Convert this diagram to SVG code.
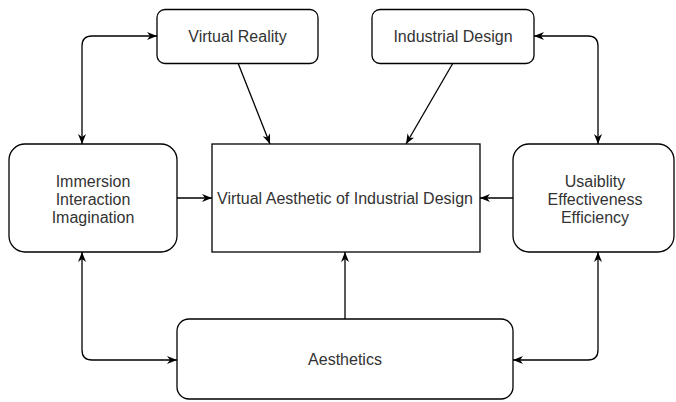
<svg xmlns="http://www.w3.org/2000/svg" width="676" height="402" viewBox="0 0 676 402">
<style>
.box{fill:#fff;stroke:#000;stroke-width:1.3}
.t{font-family:"Liberation Sans",Arial,sans-serif;font-size:16px;fill:#333;text-anchor:middle}
.c{fill:none;stroke:#000;stroke-width:1.3}
</style>
<defs>
<marker id="ah" viewBox="0 0 10 8" refX="10" refY="4" markerWidth="10" markerHeight="8" markerUnits="userSpaceOnUse" orient="auto-start-reverse">
<path d="M0,0 L10,4 L0,8 L3,4 z" fill="#000"/>
</marker>
</defs>
<rect width="676" height="402" fill="#fff"/>
<g id="connectors">
<path class="c" d="M157,36 H92 Q82,36 82,46 V144" marker-start="url(#ah)" marker-end="url(#ah)"/>
<path class="c" d="M238,63 L270,144" marker-end="url(#ah)"/>
<path class="c" d="M453,63 L406,144" marker-end="url(#ah)"/>
<path class="c" d="M534,36 H588 Q598,36 598,46 V144" marker-start="url(#ah)" marker-end="url(#ah)"/>
<path class="c" d="M177,198 H212" marker-end="url(#ah)"/>
<path class="c" d="M513,198 H480" marker-end="url(#ah)"/>
<path class="c" d="M345,319 V252" marker-end="url(#ah)"/>
<path class="c" d="M82,252 V350 Q82,360 92,360 H177" marker-start="url(#ah)" marker-end="url(#ah)"/>
<path class="c" d="M598,252 V350 Q598,360 588,360 H513" marker-start="url(#ah)" marker-end="url(#ah)"/>
</g>
<g id="virtual-reality">
<rect class="box" x="157" y="9.5" width="161" height="54" rx="8"/>
<text class="t" x="237.5" y="42">Virtual Reality</text>
</g>
<g id="industrial-design">
<rect class="box" x="372" y="9.5" width="162" height="54" rx="8"/>
<text class="t" x="453" y="42">Industrial Design</text>
</g>
<g id="immersion">
<rect class="box" x="9" y="144" width="168" height="108" rx="16"/>
<text class="t" x="93" y="187">Immersion</text>
<text class="t" x="93" y="205">Interaction</text>
<text class="t" x="93" y="223">Imagination</text>
</g>
<g id="center">
<rect class="box" x="212" y="144" width="268" height="108"/>
<text class="t" x="345" y="204">Virtual Aesthetic of Industrial Design</text>
</g>
<g id="usability">
<rect class="box" x="513" y="144" width="161" height="108" rx="16"/>
<text class="t" x="595" y="187">Usaiblity</text>
<text class="t" x="595" y="205">Effectiveness</text>
<text class="t" x="595" y="223">Efficiency</text>
</g>
<g id="aesthetics">
<rect class="box" x="177" y="319" width="336" height="80" rx="12"/>
<text class="t" x="345" y="365">Aesthetics</text>
</g>
</svg>
